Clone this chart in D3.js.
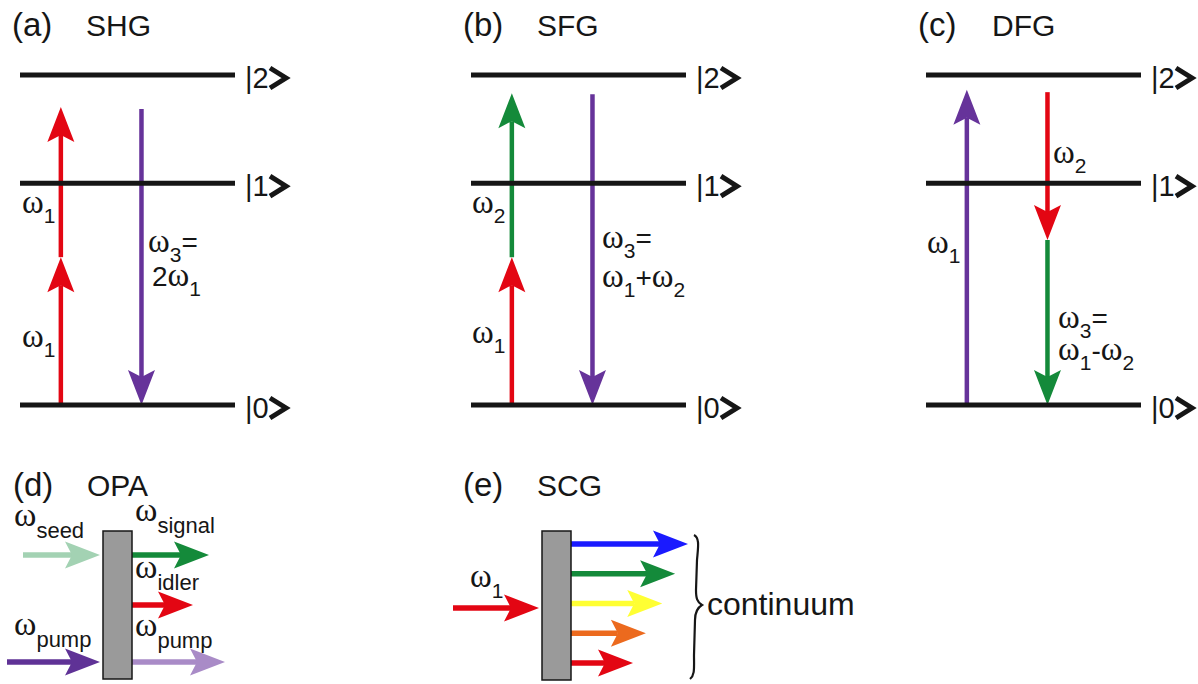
<!DOCTYPE html>
<html>
<head>
<meta charset="utf-8">
<script src="https://cdn.jsdelivr.net/npm/d3@7"></script>
<style>
  body { margin: 0; background: #fff; }
  svg { display: block; }
</style>
</head>
<body>
<svg id="fig" width="1198" height="684"></svg>
<script>
// ---------- energy-level schemes (a)-(c) ----------
const levelKets = ["|0", "|1", "|2"];
const levelEnergies = [0, 0.672, 1.0];

const schemeTags = ["(a)", "(b)", "(c)"];
const schemeNames = ["SHG", "SFG", "DFG"];

// transitions: scheme, column (0 = left, 1 = right), start energy, end energy, beam
const transitions = [
  ["SHG", 0, 0.000, 0.448, "red"],
  ["SHG", 0, 0.448, 0.903, "red"],
  ["SHG", 1, 0.897, 0.000, "purple"],
  ["SFG", 0, 0.000, 0.448, "red"],
  ["SFG", 0, 0.448, 0.945, "green"],
  ["SFG", 1, 0.942, 0.000, "purple"],
  ["DFG", 0, 0.000, 0.955, "purple"],
  ["DFG", 1, 0.948, 0.500, "red"],
  ["DFG", 1, 0.500, 0.000, "green"]
];

// frequency labels per scheme (text with _ for subscripts)
const schemeLabels = {
  SHG: ["ω_1", "ω_1", "ω_3=", "2ω_1"],
  SFG: ["ω_2", "ω_1", "ω_3=", "ω_1+ω_2"],
  DFG: ["ω_2", "ω_1", "ω_3=", "ω_1-ω_2"]
};

// ---------- OPA (d) ----------
const opaInputs = ["seed", "pump"];
const opaOutputs = ["signal", "idler", "pump"];

// ---------- SCG (e) ----------
const scgInput = "ω_1";
const scgOutputs = ["blue", "green", "yellow", "orange", "red"];
const scgSpread = [1.00, 0.89, 0.78, 0.64, 0.53];   // relative reach of each spectral component

// ---------- styles ----------
const beamColor = d3.scaleOrdinal()
  .domain(["red", "purple", "green", "seed", "signal", "idler", "pumpIn", "pumpOut", "blue", "yellow", "orange"])
  .range(["#e30613", "#66339a", "#148a3a", "#a3d2b3", "#148a3a", "#e30613", "#5f3296", "#a98bc7", "#1a1aff", "#ffff33", "#ec6a1e"]);

const SANS = "'Liberation Sans', Arial, Helvetica, sans-serif";
const SERIF = "'Liberation Serif', 'Times New Roman', serif";
const INK = "#161616";

const svg = d3.select("#fig");

// arrow with a notched head; the shaft stops inside the head
function arrow(g, x1, y1, x2, y2, color, sw) {
  const L = 35, W = 27, N = 7;
  const dx = x2 - x1, dy = y2 - y1, len = Math.hypot(dx, dy);
  const ux = dx / len, uy = dy / len, nx = -uy, ny = ux;
  const bx = x2 - ux * L, by = y2 - uy * L;
  const sx = x2 - ux * (L - N), sy = y2 - uy * (L - N);
  g.append("line")
    .attr("x1", x1).attr("y1", y1).attr("x2", sx).attr("y2", sy)
    .attr("stroke", color).attr("stroke-width", sw);
  g.append("path")
    .attr("d", `M${x2},${y2}L${bx + nx * W / 2},${by + ny * W / 2}L${sx},${sy}L${bx - nx * W / 2},${by - ny * W / 2}Z`)
    .attr("fill", color);
}

// text with ω in a serif face and "_x" / "_{xyz}" subscripts
function richText(g, x, y, str, opts = {}) {
  const big = opts.size || 28, omega = opts.omega || 33, small = opts.sub || 21, shift = opts.shift || 10;
  const segs = [];
  for (let i = 0; i < str.length; i++) {
    const c = str[i];
    if (c === "_") {
      let s;
      if (str[i + 1] === "{") { const j = str.indexOf("}", i); s = str.slice(i + 2, j); i = j; }
      else { s = str[i + 1]; i++; }
      segs.push({ t: s, sub: true });
    } else {
      segs.push({ t: c, sub: false });
    }
  }
  const t = g.append("text").attr("x", x).attr("y", y).attr("fill", INK);
  let down = false;
  segs.forEach(s => {
    const ts = t.append("tspan").text(s.t);
    if (s.sub) {
      ts.attr("font-family", SANS).attr("font-size", small);
      if (!down) { ts.attr("dy", shift); down = true; }
    } else {
      if (s.t === "ω") ts.attr("font-family", SERIF).attr("font-size", omega);
      else ts.attr("font-family", SANS).attr("font-size", big);
      if (down) { ts.attr("dy", -shift); down = false; }
    }
  });
  return t;
}

function title(x, y, tag, name) {
  svg.append("text").attr("x", x).attr("y", y).attr("font-family", SANS)
    .attr("font-size", 33).attr("fill", INK).text(tag);
  svg.append("text").attr("x", x + 74).attr("y", y).attr("font-family", SANS)
    .attr("font-size", 30).attr("fill", INK).text(name);
}

// ---------- draw schemes (a)-(c) ----------
const schemeX = d3.scaleOrdinal().domain(schemeNames).range([20, 471, 926]);
const levelWidth = 215;
const yE = d3.scaleLinear().domain([0, 1]).range([405, 75]);
const columnFrac = [0.19, 0.565];

// label placement inside each scheme: [dx from level start, baseline y]
const labelSpots = {
  SHG: [[2, 213], [2, 347], [128, 252], [132, 286]],
  SFG: [[1, 213], [1, 343], [131, 248], [131, 287]],
  DFG: [[127, 163], [1, 253], [132, 328], [132, 360]]
};

schemeNames.forEach((name, i) => {
  const x0 = schemeX(name);
  const g = svg.append("g");
  title(x0 - 8, 36, schemeTags[i], name);

  transitions.filter(d => d[0] === name).forEach(d => {
    const x = x0 + columnFrac[d[1]] * levelWidth;
    arrow(g, x, yE(d[2]), x, yE(d[3]), beamColor(d[4]), 4.5);
  });

  levelEnergies.forEach((e, k) => {
    const y = yE(e);
    g.append("line").attr("x1", x0).attr("x2", x0 + levelWidth)
      .attr("y1", y).attr("y2", y).attr("stroke", INK).attr("stroke-width", 5);
    const kx = x0 + levelWidth + 10;
    g.append("text").attr("x", kx).attr("y", y + 13).attr("font-family", SANS)
      .attr("font-size", 29).attr("fill", INK).text(levelKets[k]);
    g.append("path")
      .attr("d", `M${kx + 25},${y - 7}L${kx + 41},${y + 3}L${kx + 25},${y + 13}`)
      .attr("fill", "none").attr("stroke", INK).attr("stroke-width", 5)
      .attr("stroke-linejoin", "miter");
  });

  schemeLabels[name].forEach((lab, k) => {
    const [dx, y] = labelSpots[name][k];
    richText(g, x0 + dx, y, lab);
  });
});

// ---------- (d) OPA ----------
title(13, 496, "(d)", "OPA");
const opa = svg.append("g");
const opaRowY = { signal: 555, idler: 605, pump: 662 };
const opaCrystal = { x: 103, y: 531, w: 29, h: 148 };
const opaInStart = { seed: 23, pump: 7 };
const opaOutReach = { signal: 77, idler: 61, pump: 93 };

arrow(opa, opaInStart.seed, opaRowY.signal, opaCrystal.x - 3, opaRowY.signal, beamColor("seed"), 5.5);
arrow(opa, opaInStart.pump, opaRowY.pump, opaCrystal.x - 3, opaRowY.pump, beamColor("pumpIn"), 5.5);
opaOutputs.forEach(b => {
  const x1 = opaCrystal.x + opaCrystal.w;
  arrow(opa, x1, opaRowY[b], x1 + opaOutReach[b], opaRowY[b],
    beamColor(b === "pump" ? "pumpOut" : b), 5.5);
});
opa.append("rect").attr("x", opaCrystal.x).attr("y", opaCrystal.y)
  .attr("width", opaCrystal.w).attr("height", opaCrystal.h)
  .attr("fill", "#9a9a9a").attr("stroke", INK).attr("stroke-width", 1.5);

const opaLabelOpts = { size: 28, omega: 34, sub: 22, shift: 12 };
richText(opa, 14, 526, "ω_{" + opaInputs[0] + "}", opaLabelOpts);
richText(opa, 14, 635, "ω_{" + opaInputs[1] + "}", opaLabelOpts);
richText(opa, 135, 521, "ω_{" + opaOutputs[0] + "}", opaLabelOpts);
richText(opa, 135, 578, "ω_{" + opaOutputs[1] + "}", opaLabelOpts);
richText(opa, 135, 636, "ω_{" + opaOutputs[2] + "}", opaLabelOpts);

// ---------- (e) SCG ----------
title(463, 496, "(e)", "SCG");
const scg = svg.append("g");
const scgCrystal = { x: 542, y: 531, w: 29, h: 149 };
const scgRow = d3.scalePoint().domain(scgOutputs).range([544, 663]);
const scgLen = d3.scaleLinear().domain([0, 1]).range([0, 117]);

arrow(scg, 453, 608, scgCrystal.x - 3, 608, beamColor("red"), 5.5);
scgOutputs.forEach((c, i) => {
  const x1 = scgCrystal.x + scgCrystal.w;
  arrow(scg, x1, scgRow(c), x1 + scgLen(scgSpread[i]), scgRow(c), beamColor(c), 5.5);
});
scg.append("rect").attr("x", scgCrystal.x).attr("y", scgCrystal.y)
  .attr("width", scgCrystal.w).attr("height", scgCrystal.h)
  .attr("fill", "#9a9a9a").attr("stroke", INK).attr("stroke-width", 1.5);
richText(scg, 470, 587, scgInput, { size: 28, omega: 33, sub: 21, shift: 11 });

// curly brace grouping the continuum
scg.append("path")
  .attr("d", "M694,535 C700,538 698,548 697,560 L696,590 C696,598 697,602 702,605 C697,608 695,612 695,620 L694,655 C694,668 695,675 690,679")
  .attr("fill", "none").attr("stroke", INK).attr("stroke-width", 2.2);
scg.append("text").attr("x", 707).attr("y", 615).attr("font-family", SANS)
  .attr("font-size", 32).attr("fill", INK).text("continuum");
</script>
</body>
</html>
